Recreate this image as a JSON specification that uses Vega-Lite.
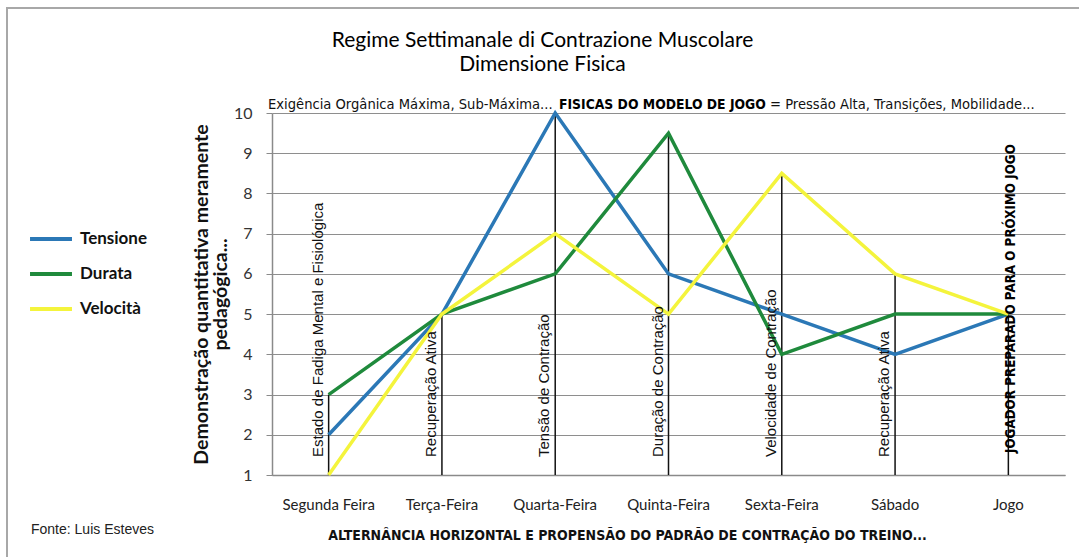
{
  "$schema": "https://vega.github.io/schema/vega-lite/v6.json",
  "autosize": {"type": "none"},
  "width": 793,
  "height": 362,
  "padding": {"left": 272, "top": 113, "right": 14, "bottom": 82},
  "background": "white",
  "title": {
    "text": ["Regime Settimanale di Contrazione Muscolare", "Dimensione Fisica"],
    "font": "Lato",
    "fontSize": 21,
    "fontWeight": "normal",
    "color": "#000000",
    "anchor": "middle",
    "frame": "group",
    "dx": -126,
    "lineHeight": 24,
    "offset": 0,
    "dy": 68
  },
  "datasets": {
    "series": [
      {"cat": "Segunda Feira", "serie": "Tensione", "value": 2},
      {"cat": "Terça-Feira", "serie": "Tensione", "value": 5},
      {"cat": "Quarta-Feira", "serie": "Tensione", "value": 10},
      {"cat": "Quinta-Feira", "serie": "Tensione", "value": 6},
      {"cat": "Sexta-Feira", "serie": "Tensione", "value": 5},
      {"cat": "Sábado", "serie": "Tensione", "value": 4},
      {"cat": "Jogo", "serie": "Tensione", "value": 5},
      {"cat": "Segunda Feira", "serie": "Durata", "value": 3},
      {"cat": "Terça-Feira", "serie": "Durata", "value": 5},
      {"cat": "Quarta-Feira", "serie": "Durata", "value": 6},
      {"cat": "Quinta-Feira", "serie": "Durata", "value": 9.5},
      {"cat": "Sexta-Feira", "serie": "Durata", "value": 4},
      {"cat": "Sábado", "serie": "Durata", "value": 5},
      {"cat": "Jogo", "serie": "Durata", "value": 5},
      {"cat": "Segunda Feira", "serie": "Velocità", "value": 1},
      {"cat": "Terça-Feira", "serie": "Velocità", "value": 5},
      {"cat": "Quarta-Feira", "serie": "Velocità", "value": 7},
      {"cat": "Quinta-Feira", "serie": "Velocità", "value": 5},
      {"cat": "Sexta-Feira", "serie": "Velocità", "value": 8.5},
      {"cat": "Sábado", "serie": "Velocità", "value": 6},
      {"cat": "Jogo", "serie": "Velocità", "value": 5}
    ],
    "drops": [
      {"cat": "Segunda Feira", "top": 3, "label": "Estado de Fadiga Mental e Fisiológica"},
      {"cat": "Terça-Feira", "top": 5, "label": "Recuperação Ativa"},
      {"cat": "Quarta-Feira", "top": 10, "label": "Tensão de Contração"},
      {"cat": "Quinta-Feira", "top": 9.5, "label": "Duração de Contração"},
      {"cat": "Sexta-Feira", "top": 8.5, "label": "Velocidade de Contração"},
      {"cat": "Sábado", "top": 6, "label": "Recuperação Ativa"},
      {"cat": "Jogo", "top": 5, "label": "JOGADOR PREPARADO PARA O PRÓXIMO JOGO"}
    ],
    "notes": [
      {"note": "frame"}
    ]
  },
  "encoding": {
    "x": {
      "field": "cat",
      "type": "nominal",
      "sort": ["Segunda Feira", "Terça-Feira", "Quarta-Feira", "Quinta-Feira", "Sexta-Feira", "Sábado", "Jogo"],
      "scale": {"paddingInner": 0, "paddingOuter": 0},
      "axis": {
        "title": "ALTERNÂNCIA HORIZONTAL E PROPENSÃO DO PADRÃO DE CONTRAÇÃO DO TREINO...",
        "titleFont": "DejaVu Sans Condensed, sans-serif",
        "titleFontSize": 14,
        "titleFontWeight": "bold",
        "titleColor": "#111111",
        "titleX": 355,
        "titleAlign": "center",
        "titlePadding": 16,
        "labelAngle": 0,
        "labelFont": "Lato",
        "labelFontSize": 15,
        "labelColor": "#222222",
        "labelPadding": 22,
        "ticks": false,
        "grid": false,
        "domainColor": "#8a8a8a",
        "domainWidth": 1.5
      }
    }
  },
  "layer": [
    {
      "data": {"name": "notes"},
      "mark": {"type": "rect", "fill": null, "stroke": "#a8a8a8", "strokeWidth": 2, "clip": false},
      "encoding": {
        "x": {"value": -265},
        "y": {"value": -105},
        "x2": {"value": 900},
        "y2": {"value": 600}
      }
    },
    {
      "data": {"name": "drops"},
      "mark": {"type": "rule", "color": "#111111", "strokeWidth": 1.5},
      "encoding": {
        "y": {
          "field": "top",
          "type": "quantitative",
          "scale": {"domain": [1, 10], "nice": false, "zero": false},
          "axis": {
            "title": ["Demonstração quantitativa meramente", "pedagógica..."],
            "titleFont": "Lato",
            "titleFontSize": 19.5,
            "titleFontWeight": "bold",
            "titleColor": "#111111",
            "titleLineHeight": 18.5,
            "titlePadding": 3,
            "values": [1, 2, 3, 4, 5, 6, 7, 8, 9, 10],
            "labelFont": "Lato",
            "labelFontSize": 16,
            "labelColor": "#333333",
            "labelPadding": 14,
            "tickSize": 6,
            "tickColor": "#8a8a8a",
            "domainColor": "#8a8a8a",
            "domainWidth": 1.5,
            "gridColor": "#8e8e8e",
            "gridWidth": 1,
            "gridOpacity": 1
          }
        },
        "y2": {"datum": 1}
      }
    },
    {
      "data": {"name": "series"},
      "mark": {"type": "line", "strokeWidth": 3.5},
      "encoding": {
        "y": {"field": "value", "type": "quantitative"},
        "color": {
          "field": "serie",
          "type": "nominal",
          "scale": {"domain": ["Tensione", "Durata", "Velocità"], "range": ["#2b78b6", "#1f8a3c", "#f4f43c"]},
          "legend": {
            "title": null,
            "orient": "none",
            "legendX": -244,
            "legendY": 103,
            "symbolType": "stroke",
            "symbolSize": 1760,
            "symbolStrokeWidth": 4,
            "rowPadding": 4,
            "labelFont": "Lato",
            "labelFontSize": 17,
            "labelFontWeight": "bold",
            "labelColor": "#111111",
            "labelOffset": 6
          }
        }
      }
    },
    {
      "data": {"name": "drops"},
      "transform": [{"filter": "datum.cat !== 'Jogo'"}],
      "mark": {"type": "text", "angle": 270, "align": "left", "baseline": "bottom", "dx": 18, "dy": -3, "font": "Liberation Sans, Arial, sans-serif", "fontSize": 15, "color": "#111111"},
      "encoding": {
        "y": {"datum": 1},
        "text": {"field": "label"}
      }
    },
    {
      "data": {"name": "drops"},
      "transform": [{"filter": "datum.cat === 'Jogo'"}],
      "mark": {"type": "text", "angle": 270, "align": "left", "baseline": "middle", "dx": 22, "dy": 3, "font": "DejaVu Sans Condensed, sans-serif", "fontSize": 13.3, "fontWeight": "bold", "color": "#000000"},
      "encoding": {
        "y": {"datum": 1},
        "text": {"field": "label"}
      }
    },
    {
      "data": {"name": "notes"},
      "mark": {"type": "text", "align": "left", "baseline": "alphabetic", "font": "DejaVu Sans Condensed, sans-serif", "fontSize": 14.6, "color": "#111111", "clip": false},
      "encoding": {
        "x": {"value": -4},
        "y": {"value": -4},
        "text": {"value": "Exigência Orgânica Máxima, Sub-Máxima..."}
      }
    },
    {
      "data": {"name": "notes"},
      "mark": {"type": "text", "align": "left", "baseline": "alphabetic", "font": "DejaVu Sans Condensed, sans-serif", "fontSize": 13.8, "fontWeight": "bold", "color": "#000000", "clip": false},
      "encoding": {
        "x": {"value": 287},
        "y": {"value": -4},
        "text": {"value": "FISICAS DO MODELO DE JOGO"}
      }
    },
    {
      "data": {"name": "notes"},
      "mark": {"type": "text", "align": "left", "baseline": "alphabetic", "font": "DejaVu Sans Condensed, sans-serif", "fontSize": 14.6, "color": "#111111", "clip": false},
      "encoding": {
        "x": {"value": 498},
        "y": {"value": -4},
        "text": {"value": "= Pressão Alta, Transições, Mobilidade..."}
      }
    },
    {
      "data": {"name": "notes"},
      "mark": {"type": "text", "align": "left", "baseline": "middle", "font": "Liberation Sans, Arial, sans-serif", "fontSize": 14, "color": "#222222", "clip": false},
      "encoding": {
        "x": {"value": -241},
        "y": {"value": 417},
        "text": {"value": "Fonte: Luis Esteves"}
      }
    }
  ],
  "config": {
    "view": {"stroke": null}
  }
}
